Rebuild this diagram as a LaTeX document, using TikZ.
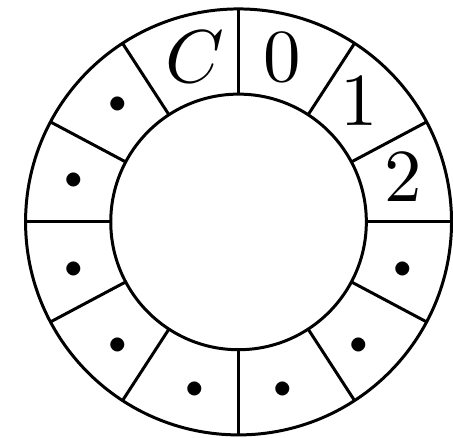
\documentclass[tikz,border=0pt]{standalone}
\begin{document}
\begin{tikzpicture}[ringdot/.style={inner sep=0pt,yshift=-0.5pt,font=\boldmath\large}]
    \useasboundingbox (-1.12,-1.014) rectangle (1.007,1.042);
    \draw (0,0) circle (1cm);
    \draw (0,0) circle (0.6cm);
    \foreach \a in {0,28,57,90,123,152,180,208,237,270,303,332}{
      \draw (\a:0.6) -- (\a:1);
    }
    \foreach \a/\lab/\nm in {15/$2$/two,45/$1$/one,75/$0$/zero,105/$C$/cap}{
      \node (\nm) at (\a:0.8) {\lab};
    }
    \foreach \a/\nm in {135/d1,165/d2,195/d3,225/d4,255/d5,285/d6,315/d7,345/d8}{
      \node[ringdot] (\nm) at (\a:0.8) {$\cdot$};
    }
  \end{tikzpicture}
\end{document}
